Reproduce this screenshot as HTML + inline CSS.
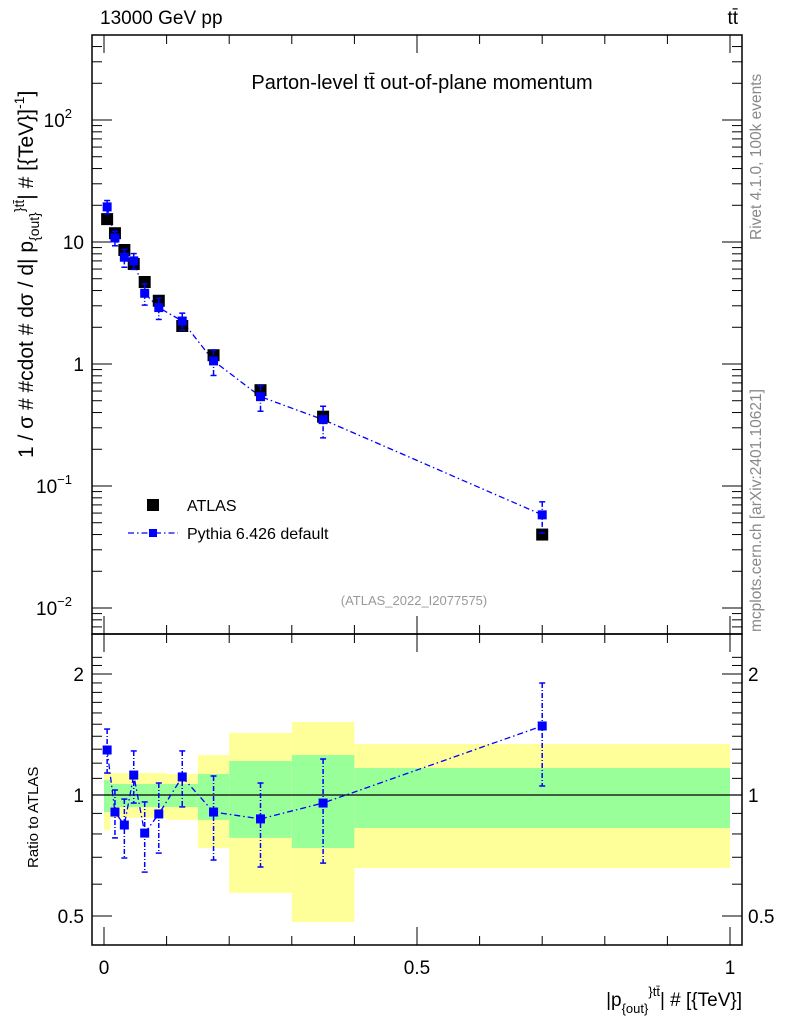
<!DOCTYPE html>
<html><head><meta charset="utf-8"><style>
body{margin:0;background:#fff}
svg{display:block;font-family:"Liberation Sans",Arial,sans-serif}
</style></head><body>
<svg id="chart" width="786" height="1024" viewBox="0 0 786 1024">
<g id="bands"></g>
<g id="axes"></g>
<g id="series"></g>
<rect x="92" y="35" width="650" height="599" fill="none" stroke="#000" stroke-width="1.5"/>
<rect x="92" y="634" width="650" height="311" fill="none" stroke="#000" stroke-width="1.5"/>
<text x="100" y="24" font-size="19">13000 GeV pp</text>
<text x="738" y="24" font-size="19" text-anchor="end">tt̄</text>
<text x="422" y="89" font-size="20" text-anchor="middle">Parton-level tt̄ out-of-plane momentum</text>
<text transform="translate(761,240) rotate(-90)" font-size="15.5" fill="#888">Rivet 4.1.0,  100k events</text>
<text transform="translate(761,632) rotate(-90)" font-size="15.5" fill="#888">mcplots.cern.ch [arXiv:2401.10621]</text>
<text transform="translate(33,458) rotate(-90)" font-size="21">1 / σ # #cdot # dσ / d| p<tspan font-size="14" dy="6">{out}</tspan><tspan font-size="14" dy="-15">}tt̄</tspan><tspan dy="9">| # [{TeV}]</tspan><tspan font-size="14" dy="-9">-1</tspan><tspan dy="9">]</tspan></text>
<text transform="translate(38,868) rotate(-90)" font-size="15">Ratio to ATLAS</text>
<text x="742" y="1006" font-size="19" text-anchor="end">|p<tspan font-size="13" dy="7">{out}</tspan><tspan font-size="13" dy="-17">}tt̄</tspan><tspan dy="10">| # [{TeV}]</tspan></text>
<g>
<rect x="147" y="499" width="12" height="12" fill="#000"/>
<text x="187" y="511" font-size="16">ATLAS</text>
<line x1="128" y1="533" x2="178" y2="533" stroke="#00f" stroke-width="1.3" stroke-dasharray="6,3,1.5,3"/>
<rect x="149" y="529" width="8" height="8" fill="#00f"/>
<text x="187" y="539" font-size="16">Pythia 6.426 default</text>
</g>
<text x="414" y="605" font-size="13" fill="#999" text-anchor="middle">(ATLAS_2022_I2077575)</text>
</svg>
<script>
const edges=[0,0.01,0.025,0.04,0.055,0.075,0.1,0.15,0.2,0.3,0.4,1.0];
const atlasVals=[15.4,11.8,8.6,6.6,4.7,3.3,2.05,1.18,0.61,0.37,0.04];
const pythiaVals=[19.4,10.8,7.5,7.0,3.8,2.9,2.25,1.06,0.54,0.35,0.058];
const ratioVals=[1.294,0.907,0.842,1.121,0.804,0.897,1.109,0.907,0.872,0.955,1.485];
const ratioHi=[1.459,1.029,0.977,1.287,0.961,1.071,1.287,1.115,1.071,1.229,1.899];
const ratioLo=[1.134,0.782,0.697,0.955,0.643,0.717,0.934,0.689,0.662,0.677,1.053];
const greenHi=[1.09,1.065,1.065,1.065,1.065,1.065,1.065,1.128,1.215,1.257,1.167];
const greenLo=[0.907,0.933,0.933,0.933,0.933,0.933,0.933,0.867,0.782,0.738,0.828];
const yellowHi=[1.147,1.134,1.134,1.134,1.134,1.134,1.128,1.257,1.427,1.519,1.339];
const yellowLo=[0.818,0.877,0.877,0.877,0.877,0.877,0.867,0.738,0.571,0.483,0.658];
const NS="http://www.w3.org/2000/svg";
const XR=742;
const X=v=>104+626*v;
const Y=v=>364-122*Math.log10(v);
const R=v=>795-402*Math.log10(v);
function mk(p,tag,a){const e=document.createElementNS(NS,tag);for(const k in a)e.setAttribute(k,a[k]);p.appendChild(e);return e;}
const bands=document.getElementById('bands'),axes=document.getElementById('axes'),ser=document.getElementById('series');
for(let i=0;i<atlasVals.length;i++){
 const x0=X(edges[i]),x1=X(edges[i+1]);
 const y=mk(bands,'rect',{x:x0,y:R(yellowHi[i]),width:x1-x0,height:R(yellowLo[i])-R(yellowHi[i]),fill:'#ffff99'});
 
 
 const g=mk(bands,'rect',{x:x0,y:R(greenHi[i]),width:x1-x0,height:R(greenLo[i])-R(greenHi[i]),fill:'#99ff99'});
 
 
}
const one=mk(axes,'line',{x1:92,x2:XR,y1:R(1),y2:R(1),stroke:'#000','stroke-width':1.3});


for(let d=-3;d<=2;d++)for(let m=1;m<=9;m++){const v=m*Math.pow(10,d);const y=Y(v);if(y<36||y>633)continue;const L=m==1?20:10;
 mk(axes,'line',{x1:92,x2:92+L,y1:y,y2:y,stroke:'#000'});mk(axes,'line',{x1:XR,x2:XR-L,y1:y,y2:y,stroke:'#000'});}
const ylab=[[100,'10','2'],[10,'10',''],[1,'1',''],[0.1,'10','−1'],[0.01,'10','−2']];
ylab.forEach(l=>{const t=mk(axes,'text',{x:l[2]?72:84,y:Y(l[0])+7,'font-size':19,'text-anchor':'end'});t.textContent=l[1];
 
 
 if(l[2]){const s=mk(t,'tspan',{'font-size':13,dy:-9});s.textContent=l[2];}});
[0.5,0.6,0.7,0.8,0.9,1,1.1,1.2,1.3,1.4,1.5,1.6,1.7,1.8,1.9,2,2.1,2.2].forEach(v=>{const y=R(v);if(y<636||y>943)return;const L=(v==0.5||v==1||v==2)?20:10;
 mk(axes,'line',{x1:92,x2:92+L,y1:y,y2:y,stroke:'#000'});mk(axes,'line',{x1:XR,x2:XR-L,y1:y,y2:y,stroke:'#000'});});
[[2,'2'],[1,'1'],[0.5,'0.5']].forEach(l=>{
 const a=mk(axes,'text',{x:84,y:R(l[0])+7,'font-size':19,'text-anchor':'end'});a.textContent=l[1];
 
 
 const b=mk(axes,'text',{x:748,y:R(l[0])+7,'font-size':19});b.textContent=l[1];
 
 });
for(let k=0;k<=10;k++){const v=k/10,x=X(v),L=(k%5==0)?18:9;
 [[634,-1],[35,1],[945,-1],[634,1]].forEach(p=>mk(axes,'line',{x1:x,x2:x,y1:p[0],y2:p[0]+p[1]*L,stroke:'#000'}));}
[[0,'0'],[0.5,'0.5'],[1,'1']].forEach(l=>{const t=mk(axes,'text',{x:X(l[0]),y:974,'font-size':19,'text-anchor':'middle'});t.textContent=l[1];
 
 });
const cx=i=>X((edges[i]+edges[i+1])/2);
let pm='',pr='';
pythiaVals.forEach((v,i)=>{pm+=(i?'L':'M')+cx(i)+','+Y(v);pr+=(i?'L':'M')+cx(i)+','+R(ratioVals[i]);});
const l1=mk(ser,'path',{d:pm,fill:'none',stroke:'#00f','stroke-width':1.3,'stroke-dasharray':'6,3,1.5,3'});


const l2=mk(ser,'path',{d:pr,fill:'none',stroke:'#00f','stroke-width':1.3,'stroke-dasharray':'6,3,1.5,3'});


atlasVals.forEach((v,i)=>{const r=mk(ser,'rect',{x:cx(i)-6,y:Y(v)-6,width:12,height:12,fill:'#000'});
 
 });
function errbar(x,yh,yl){mk(ser,'line',{x1:x,x2:x,y1:yh,y2:yl,stroke:'#00f','stroke-width':1.5,'stroke-dasharray':'5,2,1,2'});
 mk(ser,'line',{x1:x-3,x2:x+3,y1:yh,y2:yh,stroke:'#00f','stroke-width':1.5});mk(ser,'line',{x1:x-3,x2:x+3,y1:yl,y2:yl,stroke:'#00f','stroke-width':1.5});}
pythiaVals.forEach((v,i)=>{const x=cx(i);
 errbar(x,Y(v*ratioHi[i]/ratioVals[i]),Y(v*ratioLo[i]/ratioVals[i]));
 const p=mk(ser,'rect',{x:x-4.5,y:Y(v)-4.5,width:9,height:9,fill:'#00f'});
 
 
 errbar(x,R(ratioHi[i]),R(ratioLo[i]));
 const q=mk(ser,'rect',{x:x-4.5,y:R(ratioVals[i])-4.5,width:9,height:9,fill:'#00f'});
 
 });
</script>
</body></html>
